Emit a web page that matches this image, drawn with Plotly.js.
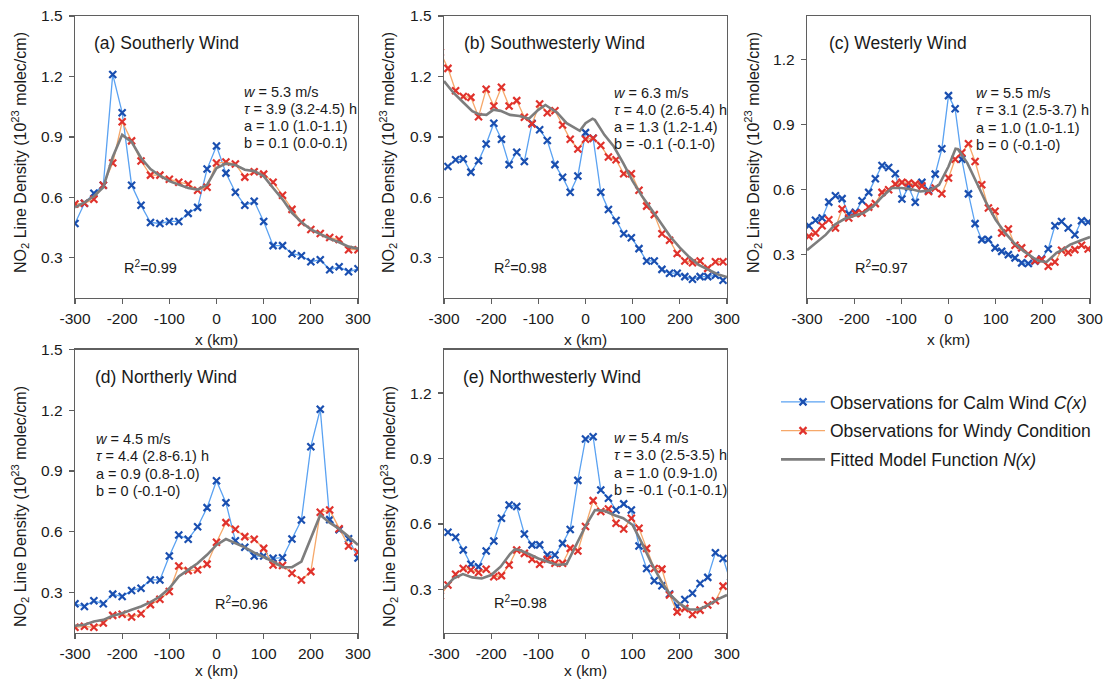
<!DOCTYPE html>
<html>
<head>
<meta charset="utf-8">
<script src="https://cdn.plot.ly/plotly-3.0.1.min.js"></script>
<style>html,body{margin:0;padding:0;background:#fff;}#chart{width:1103px;height:679px;}</style>
</head>
<body>
<div id="chart"></div>
<script>
// ---------------- data ----------------
const xTickVals = [-300, -200, -100, 0, 100, 200, 300];
const xTickText = ['-300', '-200', '-100', '0', '100', '200', '300'];
const yTicksTall = [0.3, 0.6, 0.9, 1.2, 1.5];
const yTicksShort = [0.3, 0.6, 0.9, 1.2];

const x20 = [-300,-280,-260,-240,-220,-200,-180,-160,-140,-120,-100,-80,-60,-40,-20,0,20,40,60,80,100,120,140,160,180,200,220,240,260,280,300];
const x16 = [-291.6,-275.4,-259.2,-243.0,-226.8,-210.6,-194.4,-178.2,-162.0,-145.8,-129.6,-113.4,-97.2,-81.0,-64.8,-48.6,-32.4,-16.2,0,16.2,32.4,48.6,64.8,81.0,97.2,113.4,129.6,145.8,162.0,178.2,194.4,210.6,226.8,243.0,259.2,275.4,291.6];
const x16L = [-307.8,-291.6,-275.4,-259.2,-243.0,-226.8,-210.6,-194.4,-178.2,-162.0,-145.8,-129.6,-113.4,-97.2,-81.0,-64.8,-48.6,-32.4,-16.2,0,16.2,32.4,48.6,64.8,81.0,97.2,113.4,129.6,145.8,162.0,178.2,194.4,210.6,226.8,243.0,259.2,275.4,291.6];
const x16R = [-291.6,-275.4,-259.2,-243.0,-226.8,-210.6,-194.4,-178.2,-162.0,-145.8,-129.6,-113.4,-97.2,-81.0,-64.8,-48.6,-32.4,-16.2,0,16.2,32.4,48.6,64.8,81.0,97.2,113.4,129.6,145.8,162.0,178.2,194.4,210.6,226.8,243.0,259.2,275.4,291.6,307.8];
const x14 = [-296.1,-282.0,-267.9,-253.8,-239.7,-225.6,-211.5,-197.4,-183.3,-169.2,-155.1,-141.0,-126.9,-112.8,-98.7,-84.6,-70.5,-56.4,-42.3,-28.2,-14.1,0,14.1,28.2,42.3,56.4,70.5,84.6,98.7,112.8,126.9,141.0,155.1,169.2,183.3,197.4,211.5,225.6,239.7,253.8,267.9,282.0,296.1];

// (a) Southerly
const aCalm  = [0.47,0.57,0.62,0.66,1.21,1.02,0.66,0.56,0.475,0.47,0.48,0.48,0.52,0.55,0.74,0.855,0.72,0.625,0.56,0.58,0.48,0.36,0.36,0.32,0.31,0.28,0.29,0.24,0.255,0.23,0.245];
const aWindy = [0.567,0.57,0.59,0.66,0.77,0.975,0.88,0.78,0.71,0.71,0.69,0.675,0.665,0.635,0.65,0.77,0.775,0.765,0.70,0.727,0.715,0.675,0.61,0.54,0.475,0.44,0.42,0.40,0.39,0.34,0.34];
const aFit   = [0.55,0.575,0.605,0.65,0.80,0.91,0.875,0.795,0.74,0.707,0.68,0.662,0.646,0.638,0.662,0.745,0.767,0.76,0.737,0.73,0.705,0.646,0.59,0.523,0.477,0.44,0.415,0.394,0.377,0.355,0.345];

// (b) Southwesterly
const bCalm  = [0.753,0.786,0.79,0.725,0.781,0.865,0.968,0.888,0.762,0.824,0.778,0.968,0.935,0.882,0.762,0.699,0.625,0.706,0.921,0.893,0.625,0.539,0.485,0.419,0.399,0.345,0.284,0.284,0.242,0.223,0.223,0.206,0.193,0.206,0.206,0.213,0.188];
const bWindy = [1.32,1.24,1.129,1.10,1.096,1.0,1.136,1.053,1.146,1.053,1.08,0.997,0.964,1.063,1.02,1.03,0.959,0.888,0.84,0.888,0.893,0.857,0.80,0.786,0.717,0.717,0.635,0.556,0.514,0.419,0.387,0.321,0.284,0.275,0.284,0.247,0.28,0.28];
const bFitX  = [-300,-280,-260,-240,-226,-210,-195,-180,-160,-140,-120,-100,-85,-60,-40,-20,-12,0,15,20,40,60,80,100,120,140,160,180,200,220,240,260,280,300];
const bFit   = [1.177,1.119,1.073,1.027,1.012,1.009,1.035,1.029,1.009,1.004,0.99,1.034,1.058,1.02,0.968,0.943,0.93,0.968,0.99,0.984,0.91,0.852,0.77,0.68,0.605,0.539,0.47,0.404,0.35,0.303,0.264,0.239,0.218,0.204];

// (c) Westerly
const cCalm  = [0.433,0.458,0.469,0.542,0.571,0.558,0.487,0.495,0.548,0.587,0.65,0.711,0.702,0.673,0.556,0.611,0.541,0.633,0.596,0.671,0.788,1.033,0.972,0.74,0.58,0.443,0.369,0.369,0.331,0.315,0.30,0.285,0.262,0.259,0.27,0.28,0.326,0.433,0.453,0.423,0.392,0.456,0.45];
const cWindy = [0.384,0.40,0.433,0.461,0.423,0.51,0.469,0.489,0.492,0.519,0.535,0.587,0.599,0.625,0.633,0.63,0.625,0.617,0.591,0.607,0.581,0.653,0.74,0.77,0.811,0.729,0.622,0.515,0.50,0.40,0.418,0.343,0.331,0.303,0.272,0.277,0.246,0.266,0.32,0.31,0.323,0.343,0.326];
const cFitX  = [-300,-280,-260,-240,-220,-200,-180,-160,-140,-120,-100,-80,-60,-40,-20,0,15,20,40,60,80,100,120,140,160,180,194,208,220,229,240,258,280,300];
const cFit   = [0.32,0.358,0.392,0.44,0.465,0.479,0.492,0.522,0.568,0.607,0.607,0.602,0.591,0.596,0.622,0.706,0.788,0.786,0.722,0.63,0.538,0.461,0.40,0.351,0.315,0.285,0.269,0.266,0.29,0.308,0.32,0.346,0.365,0.381];

// (d) Northerly
const dCalm  = [0.244,0.231,0.259,0.244,0.292,0.28,0.31,0.321,0.362,0.362,0.48,0.584,0.563,0.625,0.719,0.852,0.743,0.556,0.523,0.48,0.48,0.469,0.472,0.564,0.658,1.02,1.205,0.66,0.61,0.565,0.47];
const dWindy = [0.128,0.133,0.128,0.149,0.187,0.193,0.179,0.195,0.24,0.267,0.305,0.431,0.408,0.412,0.44,0.548,0.645,0.612,0.576,0.563,0.518,0.436,0.433,0.395,0.362,0.403,0.696,0.707,0.615,0.53,0.50];
const dFit   = [0.136,0.141,0.157,0.165,0.185,0.198,0.215,0.231,0.252,0.28,0.321,0.379,0.412,0.444,0.486,0.535,0.564,0.543,0.523,0.497,0.477,0.453,0.425,0.425,0.453,0.57,0.683,0.645,0.614,0.576,0.535];

// (e) Northwesterly
const eCalm  = [0.562,0.539,0.481,0.415,0.404,0.476,0.522,0.626,0.687,0.68,0.554,0.504,0.504,0.458,0.458,0.511,0.575,0.80,0.99,1.0,0.756,0.718,0.664,0.692,0.664,0.499,0.396,0.34,0.317,0.279,0.223,0.254,0.282,0.327,0.355,0.468,0.442,0.334];
const eWindy = [0.27,0.32,0.369,0.396,0.389,0.377,0.392,0.358,0.363,0.412,0.481,0.465,0.438,0.415,0.438,0.42,0.42,0.488,0.476,0.588,0.707,0.657,0.669,0.603,0.577,0.626,0.58,0.488,0.396,0.393,0.274,0.197,0.213,0.185,0.205,0.228,0.248,0.315];
const eFitX  = [-300,-280,-260,-240,-220,-200,-180,-160,-150,-140,-120,-100,-80,-60,-40,-20,0,20,40,60,80,100,120,140,160,180,200,220,240,260,280,300];
const eFit   = [0.305,0.35,0.37,0.355,0.35,0.366,0.404,0.462,0.484,0.481,0.462,0.442,0.427,0.412,0.416,0.50,0.59,0.664,0.66,0.641,0.626,0.595,0.511,0.419,0.34,0.274,0.233,0.208,0.208,0.228,0.254,0.274];

const panelTitles = ['(a) Southerly Wind', '(b) Southwesterly Wind', '(c) Westerly Wind', '(d) Northerly Wind', '(e) Northwesterly Wind'];
const paramText = [
  ['<i>w</i> = 5.3 m/s', '<i>τ</i> = 3.9 (3.2-4.5) h', 'a = 1.0 (1.0-1.1)', 'b = 0.1 (0.0-0.1)'],
  ['<i>w</i> = 6.3 m/s', '<i>τ</i> = 4.0 (2.6-5.4) h', 'a = 1.3 (1.2-1.4)', 'b = -0.1 (-0.1-0)'],
  ['<i>w</i> = 5.5 m/s', '<i>τ</i> = 3.1 (2.5-3.7) h', 'a = 1.0 (1.0-1.1)', 'b = 0 (-0.1-0)'],
  ['<i>w</i> = 4.5 m/s', '<i>τ</i> = 4.4 (2.8-6.1) h', 'a = 0.9 (0.8-1.0)', 'b = 0 (-0.1-0)'],
  ['<i>w</i> = 5.4 m/s', '<i>τ</i> = 3.0 (2.5-3.5) h', 'a = 1.0 (0.9-1.0)', 'b = -0.1 (-0.1-0.1)']
];
const r2Text = ['0.99', '0.98', '0.97', '0.96', '0.98'];
const legendNames = ['Observations for Calm Wind <i>C(x)</i>', 'Observations for Windy Condition', 'Fitted Model Function <i>N(x)</i>'];

// ---------------- styling / layout ----------------
const W = 1103, H = 679;
const FONT = 'Arial, "Liberation Sans", sans-serif';
const TXT = '#1a1a1a';
const AX = '#5f5f5f';
const BLUE_M = '#1a4fb0', BLUE_L = '#5aa2f2';
const RED_M = '#e0322c', RED_L = '#f6a86a';
const GRAY = '#7d7d7d';
const px = v => v / W;
const py = v => 1 - v / H;

// panel boxes in pixels: [left, right, top, bottom]
const boxes = [
  [75, 358, 16, 298],
  [444, 727, 16, 298],
  [807, 1090, 16, 298],
  [75, 358, 349.5, 633],
  [444, 727, 349.5, 633]
];
const yRanges = [[0.1, 1.5], [0.1, 1.5], [0.1, 1.4], [0.1, 1.5], [0.1, 1.4]];
const yTicks = [yTicksTall, yTicksTall, yTicksShort, yTicksTall, yTicksShort];

const series = [
  [[x20, aCalm], [x20, aWindy], [x20, aFit]],
  [[x16, bCalm], [x16L, bWindy], [bFitX, bFit]],
  [[x14, cCalm], [x14, cWindy], [cFitX, cFit]],
  [[x20, dCalm], [x20, dWindy], [x20, dFit]],
  [[x16R, eCalm], [x16L, eWindy], [eFitX, eFit]]
];

const traces = [];
const layout = {
  width: W, height: H,
  margin: {l: 0, r: 0, t: 0, b: 0},
  paper_bgcolor: '#fff', plot_bgcolor: '#fff',
  font: {family: FONT, color: TXT, size: 15.5},
  showlegend: true,
  legend: {
    x: px(776), y: py(384), xanchor: 'left', yanchor: 'top',
    font: {family: FONT, size: 17.5, color: TXT},
    bgcolor: 'rgba(0,0,0,0)', borderwidth: 0,
    traceorder: 'grouped', tracegroupgap: 3, itemwidth: 44
  },
  annotations: [],
  shapes: []
};

boxes.forEach((b, i) => {
  const n = i === 0 ? '' : String(i + 1);
  const xa = 'xaxis' + n, ya = 'yaxis' + n;
  layout[xa] = {
    domain: [px(b[0]), px(b[1])], anchor: 'y' + n, range: [-300, 300],
    tickvals: xTickVals, ticktext: xTickText,
    showline: true, mirror: true, linecolor: AX, linewidth: 1.3,
    ticks: 'outside', ticklen: 5, tickwidth: 1.3, tickcolor: AX,
    showgrid: false, zeroline: false, automargin: false,
    tickfont: {size: 15.5, color: TXT, family: FONT}, ticklabelstandoff: 1,
    ticklabeloverflow: 'allow'
  };
  layout[ya] = {
    domain: [py(b[3]), py(b[2])], anchor: 'x' + n, range: yRanges[i],
    tickvals: yTicks[i], ticktext: yTicks[i].map(v => v.toFixed(1)),
    showline: true, mirror: true, linecolor: AX, linewidth: 1.3,
    ticks: 'outside', ticklen: 5, tickwidth: 1.3, tickcolor: AX,
    showgrid: false, zeroline: false, automargin: false,
    tickfont: {size: 15.5, color: TXT, family: FONT}, ticklabelstandoff: 3,
    ticklabeloverflow: 'allow'
  };
  const s = series[i];
  const xr = 'x' + n, yr = 'y' + n;
  traces.push({
    type: 'scatter', mode: 'lines+markers', x: s[0][0], y: s[0][1], xaxis: xr, yaxis: yr,
    name: legendNames[0], legendgroup: 'g1', showlegend: i === 0,
    line: {color: BLUE_L, width: 1.3},
    marker: {symbol: 'x-thin', size: 7, line: {width: 2.2, color: BLUE_M}, color: BLUE_M}
  });
  traces.push({
    type: 'scatter', mode: 'lines+markers', x: s[1][0], y: s[1][1], xaxis: xr, yaxis: yr,
    name: legendNames[1], legendgroup: 'g2', showlegend: i === 0,
    line: {color: RED_L, width: 1.3},
    marker: {symbol: 'x-thin', size: 7, line: {width: 2.2, color: RED_M}, color: RED_M}
  });
  traces.push({
    type: 'scatter', mode: 'lines', x: s[2][0], y: s[2][1], xaxis: xr, yaxis: yr,
    name: legendNames[2], legendgroup: 'g3', showlegend: i === 0,
    line: {color: GRAY, width: 2.6}
  });
});

const ann = (x, y, text, opt) => Object.assign({
  xref: 'paper', yref: 'paper', x: px(x), y: py(y), text: text, showarrow: false,
  xanchor: 'left', yanchor: 'middle', font: {family: FONT, size: 14.5, color: TXT}
}, opt || {});

// panel titles
const titlePos = [[92, 43], [461.7, 43], [826.7, 43], [92.7, 376.7], [460.7, 376.7]];
titlePos.forEach((p, i) => layout.annotations.push(ann(p[0], p[1], panelTitles[i], {font: {family: FONT, size: 17.5, color: TXT}})));

// parameter blocks
const paramPos = [[242, 91.7], [611.7, 92.7], [974.3, 93.3], [94, 439.3], [612.3, 438.3]];
paramPos.forEach((p, i) => {
  paramText[i].forEach((t, j) => layout.annotations.push(ann(p[0], p[1] + j * 17.1, t)));
});

// R^2
const r2Pos = [[121.7, 266.7], [491.7, 266.7], [853.3, 266.7], [213.3, 602.7], [491.7, 601.7]];
r2Pos.forEach((p, i) => layout.annotations.push(ann(p[0], p[1], 'R<sup>2</sup>=' + r2Text[i])));

// axis titles
const xTitlePos = [[216.5, 339], [585.5, 339], [948.5, 339], [216.5, 670], [585.5, 670]];
xTitlePos.forEach(p => layout.annotations.push(ann(p[0], p[1], 'x (km)', {xanchor: 'center', font: {family: FONT, size: 15.5, color: TXT}})));
const yTitlePos = [[20, 153], [388, 153], [753, 153], [20, 507], [389, 507]];
yTitlePos.forEach(p => layout.annotations.push(ann(p[0], p[1], 'NO<sub>2</sub> Line Density (10<sup>23</sup> molec/cm)', {xanchor: 'center', textangle: -90, font: {family: FONT, size: 16, color: TXT}})));

Plotly.newPlot('chart', traces, layout, {staticPlot: true, displayModeBar: false});
</script>
</body>
</html>
